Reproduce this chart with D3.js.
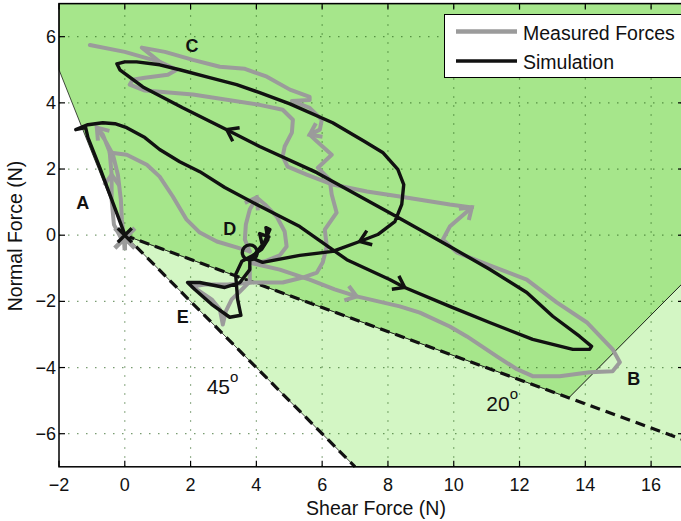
<!DOCTYPE html>
<html>
<head>
<meta charset="utf-8">
<script src="https://cdn.jsdelivr.net/npm/d3@7"></script>
<style>
  body { margin: 0; background: #fff; }
  svg { display: block; font-family: "Liberation Sans", Arial, Helvetica, sans-serif; }
</style>
</head>
<body>
<div id="chart"></div>
<script>
// axis ticks
const xTicks = [-2, 0, 2, 4, 6, 8, 10, 12, 14, 16];
const yTicks = [-6, -4, -2, 0, 2, 4, 6];

// friction cone regions (shear, normal)
const whiteRegion = [[-2, 5], [0, 0], [7, -7], [-2, -7]];
const darkRegion = [[-2, 7], [-2, 5], [0, 0], [13.5, -4.91], [17, -1.41], [17, 7]];
const lightRegion = [[0, 0], [7, -7], [17, -7], [17, -1.41], [13.5, -4.91]];
const cone45 = [[0, 0], [7, -7]];
const cone20 = [[0, 0], [17, -6.19]];

// simulation trajectory
const simulation = [
  [0.00, 0.02], [-0.40, 1.08], [-0.76, 2.04], [-1.12, 2.95], [-1.19, 3.25], [-1.49, 3.19],
  [-1.12, 3.34], [-0.67, 3.40], [-0.30, 3.37], [0.06, 3.25], [0.61, 2.95], [1.06, 2.59],
  [1.67, 2.22], [2.28, 1.92], [3.04, 1.44], [4.01, 0.93], [5.32, 0.26], [6.75, -0.74],
  [8.05, -1.34], [8.51, -1.58], [9.88, -2.15], [11.09, -2.64], [12.40, -3.15], [13.62, -3.45],
  [14.13, -3.45], [14.19, -3.36], [13.83, -3.06], [13.01, -2.45], [12.22, -1.73], [11.09, -1.03],
  [9.88, -0.34], [8.27, 0.56], [5.84, 1.89], [4.10, 2.68], [3.10, 3.19], [1.76, 3.85],
  [0.55, 4.48], [-0.15, 5.00], [-0.24, 5.18], [0.00, 5.24], [0.36, 5.24], [1.06, 5.15],
  [1.67, 5.00], [2.58, 4.76], [3.40, 4.55], [4.10, 4.31], [5.02, 3.97], [6.32, 3.40],
  [7.29, 2.83], [7.84, 2.50], [8.30, 1.99], [8.48, 1.53], [8.42, 0.93], [8.21, 0.41],
  [7.69, 0.02], [7.14, -0.19], [6.32, -0.49], [5.32, -0.61], [4.19, -0.82], [3.80, -0.67],
  [4.16, -0.43], [4.35, -0.13], [4.29, 0.23], [4.41, 0.17], [4.19, -0.34], [4.10, 0.05],
  [4.38, -0.05], [3.95, -0.58], [3.56, -0.79], [3.37, -1.19], [3.43, -1.94], [3.53, -2.42],
  [3.19, -2.48], [2.64, -2.09], [2.13, -1.64], [1.91, -1.43], [2.28, -1.43], [3.04, -1.58],
  [3.50, -1.43], [3.80, -1.04], [3.80, -0.73]
];
const simulationArrows = [19, 34, 55];

// measured force strands
const measuredA = [
  [-0.06, -0.19], [-0.33, 0.32], [-0.40, 1.08], [-0.40, 1.83], [-0.46, 2.52], [-0.67, 3.04],
  [-0.85, 3.25], [-0.61, 2.89], [-0.36, 2.43], [-0.21, 1.83], [-0.12, 1.08], [-0.09, 0.47],
  [-0.03, -0.07], [0.00, -0.37]
];
const measuredB = [
  [-0.46, 2.50], [0.06, 2.43], [0.67, 2.13], [1.06, 1.77], [1.46, 1.17], [1.88, 0.47],
  [2.28, 0.08], [2.80, -0.19], [3.40, -0.37], [3.80, -0.49]
];
const measuredD = [
  [3.80, -0.49], [3.65, -0.13], [3.68, 0.32], [3.80, 0.78], [4.01, 1.14], [4.26, 0.93],
  [4.62, 0.56], [4.86, 0.11], [4.92, -0.34], [4.71, -0.61], [4.26, -0.79], [3.89, -0.85]
];
const measuredTip = [
  [3.89, -0.85], [4.71, -1.04], [5.62, -1.34], [6.38, -1.64], [7.05, -1.85], [8.36, -2.15],
  [8.97, -2.34], [9.88, -2.76], [10.40, -3.06], [11.31, -3.66], [11.92, -4.05], [12.40, -4.26],
  [13.22, -4.26], [14.13, -4.14], [14.83, -4.11], [15.05, -3.84], [14.83, -3.45], [14.04, -2.63],
  [13.13, -2.03], [12.22, -1.34], [11.19, -0.95], [10.09, -0.52], [9.67, -0.13], [9.88, 0.26],
  [10.55, 0.84]
];
const measuredC1 = [
  [-1.06, 5.75], [0.00, 5.54], [1.06, 5.24], [1.58, 5.00], [1.31, 4.85], [0.61, 4.76],
  [0.24, 4.70], [0.15, 4.55], [0.61, 4.37], [2.07, 4.25], [4.10, 3.94], [4.80, 3.79],
  [5.11, 3.49], [5.08, 3.10], [4.86, 2.68], [4.80, 2.38], [4.95, 2.07], [5.53, 1.83],
  [6.32, 1.53], [7.36, 1.32], [8.36, 1.17], [9.88, 0.93], [10.55, 0.84]
];
const measuredC2 = [
  [1.06, 5.24], [0.52, 5.67], [1.22, 5.54], [2.07, 5.30], [2.89, 5.09], [3.65, 5.03],
  [4.32, 4.79], [5.02, 4.40], [5.62, 4.18], [5.62, 4.09], [5.08, 4.06], [5.62, 3.85],
  [5.99, 3.49], [5.93, 3.19], [5.62, 3.04], [5.78, 2.89], [6.29, 2.43], [5.87, 2.04],
  [6.23, 1.68], [6.29, 1.23], [6.44, 0.68], [6.08, 0.17], [6.14, -0.34], [6.02, -0.82],
  [5.84, -1.13], [5.41, -1.28], [4.80, -1.43], [3.89, -1.43], [3.19, -1.49]
];
const measuredE = [
  [3.19, -1.49], [2.43, -1.49], [2.04, -1.55], [2.28, -1.70], [2.64, -1.94], [2.89, -2.24],
  [2.98, -2.70], [3.07, -2.30], [3.25, -1.94], [3.50, -1.70], [3.80, -1.40], [3.80, -0.98]
];
const measured = [measuredA, measuredB, measuredD, measuredTip, measuredC1, measuredC2, measuredE];
const measuredArrows = [[0, 3], [0, 6], [2, 4], [3, 4], [3, 24], [5, 14]];

// markers and annotations
const startPoint = [0, 0];
const contactPoint = [3.80, -0.52];
const phaseLabels = [
  { text: "A", x: -1.28, y: 0.98 },
  { text: "B", x: 15.47, y: -4.35 },
  { text: "C", x: 2.04, y: 5.72 },
  { text: "D", x: 3.19, y: 0.20 },
  { text: "E", x: 1.76, y: -2.48 }
];
const angleLabels = [
  { text: "45", x: 2.49, y: -4.8 },
  { text: "20", x: 10.99, y: -5.3 }
];
const legendItems = [
  { name: "Measured Forces", color: "#9b9b9b", width: 4.5 },
  { name: "Simulation", color: "#111", width: 3.5 }
];

const W = 681, H = 521;
const x = d3.scaleLinear().domain([-2, 17]).range([59, 684]);
const y = d3.scaleLinear().domain([-7, 7]).range([466.8, 3.6]);

const svg = d3.select("#chart").append("svg")
  .attr("width", W)
  .attr("height", H);

const line = d3.line().x(d => x(d[0])).y(d => y(d[1]));
const poly = pts => line(pts) + "Z";

// regions
svg.append("path").attr("d", poly(whiteRegion)).attr("fill", "#fff");
svg.append("path").attr("d", poly(lightRegion)).attr("fill", "#d3f6c4")
  .attr("stroke", "#000").attr("stroke-width", 0.7);
svg.append("path").attr("d", poly(darkRegion)).attr("fill", "#a6e68b")
  .attr("stroke", "#000").attr("stroke-width", 0.7);

// grid
const grid = svg.append("g")
  .attr("stroke", "#1f5a12")
  .attr("stroke-opacity", 0.6)
  .attr("stroke-width", 1.2)
  .attr("stroke-dasharray", "1.5,7.5");
grid.selectAll(".gx").data(xTicks.slice(1)).enter().append("line")
  .attr("x1", d => x(d)).attr("x2", d => x(d))
  .attr("y1", y(-7)).attr("y2", y(7));
grid.selectAll(".gy").data(yTicks).enter().append("line")
  .attr("x1", x(-2)).attr("x2", x(17))
  .attr("y1", d => y(d)).attr("y2", d => y(d));

// cone boundaries
[cone45, cone20].forEach(seg => {
  svg.append("path").attr("d", line(seg))
    .attr("fill", "none").attr("stroke", "#111")
    .attr("stroke-width", 3.2).attr("stroke-dasharray", "10,6");
});

function arrowHead(g, pts, i, color, w) {
  const x1 = x(pts[i - 1][0]), y1 = y(pts[i - 1][1]);
  const x2 = x(pts[i][0]), y2 = y(pts[i][1]);
  const back = Math.atan2(y1 - y2, x1 - x2);
  const len = 13, spread = 0.62;
  const a1 = [x2 + len * Math.cos(back - spread), y2 + len * Math.sin(back - spread)];
  const a2 = [x2 + len * Math.cos(back + spread), y2 + len * Math.sin(back + spread)];
  g.append("path")
    .attr("d", `M${a1[0]},${a1[1]}L${x2},${y2}L${a2[0]},${a2[1]}`)
    .attr("fill", "none").attr("stroke", color)
    .attr("stroke-width", w).attr("stroke-linejoin", "miter");
}

// measured forces
const gMeas = svg.append("g");
gMeas.selectAll("path.meas").data(measured).enter().append("path")
  .attr("class", "meas")
  .attr("d", line)
  .attr("fill", "none")
  .attr("stroke", "#9b9b9b")
  .attr("stroke-width", 4)
  .attr("stroke-linejoin", "round")
  .attr("stroke-linecap", "round");
measuredArrows.forEach(([s, i]) => arrowHead(gMeas, measured[s], i, "#9b9b9b", 4));

// gray start marker
const sx = x(startPoint[0]), sy = y(startPoint[1]) + 3;
gMeas.append("path")
  .attr("d", `M${sx - 10},${sy - 10}L${sx + 10},${sy + 10}M${sx - 10},${sy + 10}L${sx + 10},${sy - 10}M${sx},${sy}L${sx},${sy + 12}`)
  .attr("stroke", "#9b9b9b").attr("stroke-width", 4.5).attr("fill", "none");

// simulation
const gSim = svg.append("g");
gSim.append("path")
  .attr("d", line(simulation))
  .attr("fill", "none")
  .attr("stroke", "#111")
  .attr("stroke-width", 3.4)
  .attr("stroke-linejoin", "round");
simulationArrows.forEach(i => arrowHead(gSim, simulation, i, "#111", 3.4));

const bx = x(startPoint[0]), by = y(startPoint[1]);
gSim.append("path")
  .attr("d", `M${bx - 7},${by - 7}L${bx + 7},${by + 7}M${bx - 7},${by + 7}L${bx + 7},${by - 7}`)
  .attr("stroke", "#111").attr("stroke-width", 3.4);
gSim.append("circle")
  .attr("cx", x(contactPoint[0])).attr("cy", y(contactPoint[1])).attr("r", 7.5)
  .attr("fill", "none").attr("stroke", "#111").attr("stroke-width", 3.4);

// labels
svg.selectAll(".phase").data(phaseLabels).enter().append("text")
  .attr("x", d => x(d.x)).attr("y", d => y(d.y))
  .attr("text-anchor", "middle").attr("dominant-baseline", "central")
  .attr("font-size", 18).attr("font-weight", "bold").attr("fill", "#111")
  .text(d => d.text);

const ang = svg.selectAll(".ang").data(angleLabels).enter().append("text")
  .attr("x", d => x(d.x)).attr("y", d => y(d.y))
  .attr("font-size", 21).attr("fill", "#111");
ang.append("tspan").text(d => d.text);
ang.append("tspan").attr("dy", -12).attr("font-size", 15).text("o");

// axes frame and ticks
const axisG = svg.append("g").attr("stroke", "#000");
axisG.append("rect")
  .attr("x", x(-2)).attr("y", y(7))
  .attr("width", x(17) - x(-2)).attr("height", y(-7) - y(7))
  .attr("fill", "none").attr("stroke-width", 1.5);
xTicks.forEach(t => {
  axisG.append("line").attr("x1", x(t)).attr("x2", x(t)).attr("y1", y(-7)).attr("y2", y(-7) - 6).attr("stroke-width", 1.2);
  axisG.append("line").attr("x1", x(t)).attr("x2", x(t)).attr("y1", y(7)).attr("y2", y(7) + 6).attr("stroke-width", 1.2);
});
yTicks.forEach(t => {
  axisG.append("line").attr("x1", x(-2)).attr("x2", x(-2) + 6).attr("y1", y(t)).attr("y2", y(t)).attr("stroke-width", 1.2);
  axisG.append("line").attr("x1", x(17)).attr("x2", x(17) - 6).attr("y1", y(t)).attr("y2", y(t)).attr("stroke-width", 1.2);
});

const fmt = d3.format("d");
svg.selectAll(".xt").data(xTicks).enter().append("text")
  .attr("x", d => x(d)).attr("y", 491)
  .attr("text-anchor", "middle").attr("font-size", 18).attr("fill", "#111")
  .text(d => fmt(d));
svg.selectAll(".yt").data(yTicks).enter().append("text")
  .attr("x", 56).attr("y", d => y(d))
  .attr("text-anchor", "end").attr("dominant-baseline", "central")
  .attr("font-size", 18).attr("fill", "#111")
  .text(d => fmt(d));

svg.append("text")
  .attr("x", 376).attr("y", 515)
  .attr("text-anchor", "middle").attr("font-size", 19.5).attr("fill", "#111")
  .text("Shear Force (N)");
svg.append("text")
  .attr("transform", `translate(22,236) rotate(-90)`)
  .attr("text-anchor", "middle").attr("font-size", 19.5).attr("fill", "#111")
  .text("Normal Force (N)");

// legend
const leg = svg.append("g");
leg.append("rect")
  .attr("x", 444.5).attr("y", 14.5).attr("width", 245).attr("height", 63)
  .attr("fill", "#fff").attr("stroke", "#000").attr("stroke-width", 1);
const li = leg.selectAll(".li").data(legendItems).enter().append("g")
  .attr("transform", (d, i) => `translate(0,${31.5 + i * 29.5})`);
li.append("line").attr("x1", 456).attr("x2", 517)
  .attr("stroke", d => d.color).attr("stroke-width", d => d.width);
li.append("text").attr("x", 523).attr("y", 1)
  .attr("dominant-baseline", "central").attr("font-size", 19.5).attr("fill", "#111")
  .text(d => d.name);
</script>
</body>
</html>
